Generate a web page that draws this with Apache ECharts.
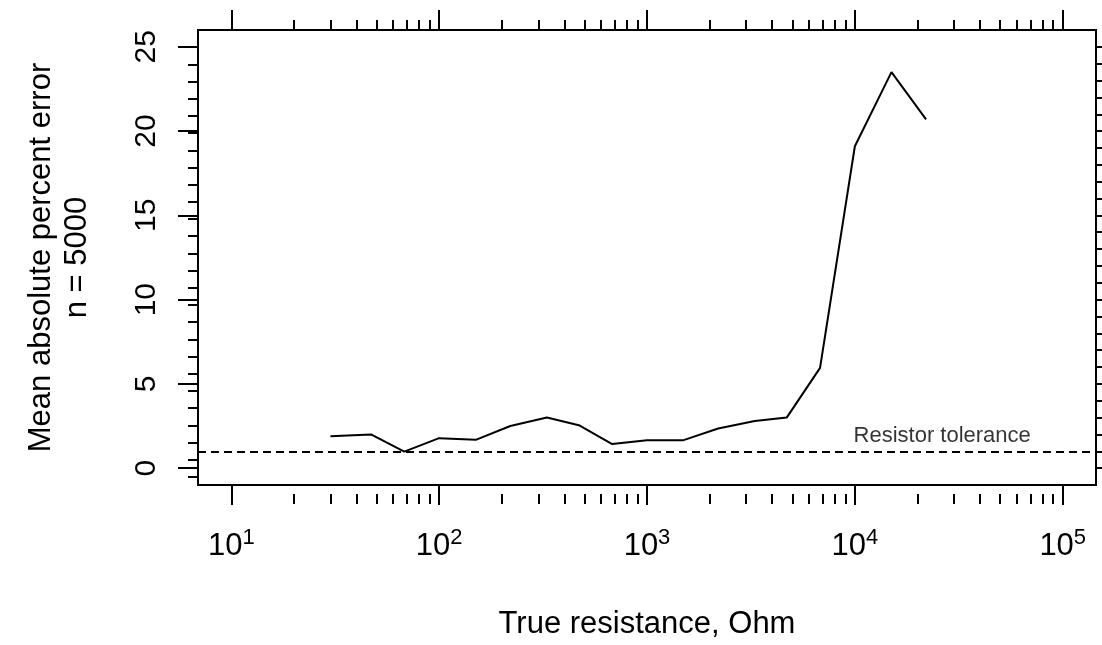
<!DOCTYPE html>
<html><head><meta charset="utf-8">
<script src="https://cdn.jsdelivr.net/npm/echarts@6/dist/echarts.min.js"></script>
<style>html,body{margin:0;padding:0;background:#fff}#c{width:1102px;height:645px}</style>
</head><body><div id="c"></div>
<script>
// ---- data ----
const resistance = [30, 47, 68, 100, 150, 220, 330, 470, 680, 1000, 1500, 2200, 3300, 4700, 6800, 10000, 15000, 22000];
const meanAbsPctError = [1.9, 2.0, 0.98, 1.78, 1.68, 2.5, 3.0, 2.55, 1.43, 1.66, 1.66, 2.35, 2.8, 3.0, 5.95, 19.1, 23.5, 20.7];
const toleranceLevel = 1;
const toleranceLabel = 'Resistor tolerance';
const toleranceLabelAt = [26300, 1.9];
const xMajorTicks = [10, 100, 1000, 10000, 100000];
const xMinorTicks = [20, 30, 40, 50, 60, 70, 80, 90,
  200, 300, 400, 500, 600, 700, 800, 900,
  2000, 3000, 4000, 5000, 6000, 7000, 8000, 9000,
  20000, 30000, 40000, 50000, 60000, 70000, 80000, 90000];
const yMajorTicks = [0, 5, 10, 15, 20, 25];
const yMinorTicks = [0, 1, 2, 3, 4, 5, 6, 7, 8, 9, 10, 11, 12, 13, 14, 15, 16, 17, 18, 19, 20, 21, 22, 23, 24, 25];
const xTitle = 'True resistance, Ohm';
const yTitle = 'Mean absolute percent error\nn = 5000';
const xLimits = [10, 100000];
const yLimits = [0, 25];

// ---- chart ----
const FONT = 'Liberation Sans, Arial, sans-serif';
const lg = v => Math.log10(v);
// R style 4% extension
const xr = lg(xLimits[1]) - lg(xLimits[0]);
const xMin = lg(xLimits[0]) - 0.04 * xr, xMax = lg(xLimits[1]) + 0.04 * xr;
const yr = yLimits[1] - yLimits[0];
const yMin = yLimits[0] - 0.04 * yr, yMax = yLimits[1] + 0.04 * yr;

const tickStyle = {color: '#000', width: 2};
const gridBox = {left: 198, right: 6, top: 30, bottom: 151};

function xAx(grid, pos, ticks, len, labels) {
  return {
    gridIndex: grid, type: 'value', position: pos, min: xMin, max: xMax,
    axisLine: {show: false, onZero: false}, splitLine: {show: false},
    axisTick: {show: true, inside: false, customValues: ticks.map(lg), length: len, lineStyle: tickStyle},
    axisLabel: labels ? {
      show: true, customValues: ticks.map(lg), margin: 42,
      formatter: v => '{b|10}{s|' + Math.round(v) + '}',
      rich: {
        b: {fontSize: 31, fontFamily: FONT, color: '#000'},
        s: {fontSize: 22, fontFamily: FONT, color: '#000', padding: [0, 0, 17, 0]}
      }
    } : {show: false},
    name: labels ? xTitle : '', nameLocation: 'middle', nameGap: 124,
    nameTextStyle: {fontSize: 31, fontFamily: FONT, color: '#000'}
  };
}
function yAx(grid, pos, ticks, len, labels, name) {
  return {
    gridIndex: grid, type: 'value', position: pos, min: yMin, max: yMax,
    axisLine: {show: false, onZero: false}, splitLine: {show: false},
    axisTick: {show: ticks.length > 0, inside: false, customValues: ticks, length: len, lineStyle: tickStyle},
    axisLabel: labels ? {
      show: true, customValues: ticks, rotate: 90, margin: 36,
      fontSize: 30, fontFamily: FONT, color: '#000'
    } : {show: false},
    name: name ? yTitle : '', nameLocation: 'middle', nameRotate: 90, nameGap: 103,
    nameTextStyle: {fontSize: 31, fontFamily: FONT, color: '#000', lineHeight: 36, align: 'center'}
  };
}

const chart = echarts.init(document.getElementById('c'), null, {renderer: 'canvas'});
chart.setOption({
  animation: false,
  backgroundColor: '#fff',
  grid: [
    Object.assign({show: true, borderColor: '#000', borderWidth: 2, backgroundColor: 'transparent'}, gridBox),
    Object.assign({show: false}, gridBox)
  ],
  xAxis: [
    xAx(0, 'bottom', xMajorTicks, 20, true),
    xAx(0, 'top', xMajorTicks, 20, false),
    xAx(1, 'bottom', xMinorTicks, 10, false),
    xAx(1, 'top', xMinorTicks, 10, false)
  ],
  yAxis: [
    yAx(0, 'left', yMajorTicks, 20, true, true),
    yAx(0, 'right', yMinorTicks, 10, false, false),
    yAx(1, 'left', yMinorTicks, 10, false, false),
    yAx(1, 'right', [], 10, false, false)
  ],
  series: [
    {
      type: 'line', xAxisIndex: 0, yAxisIndex: 0,
      data: resistance.map((r, i) => [lg(r), meanAbsPctError[i]]),
      showSymbol: false, symbol: 'none',
      lineStyle: {color: '#000', width: 2},
      markLine: {
        silent: true, symbol: 'none', animation: false,
        label: {show: false},
        lineStyle: {color: '#000', width: 2, type: [8, 5]},
        data: [{yAxis: toleranceLevel}]
      }
    },
    {
      type: 'scatter', xAxisIndex: 0, yAxisIndex: 0,
      data: [[lg(toleranceLabelAt[0]), toleranceLabelAt[1]]],
      symbolSize: 1, itemStyle: {color: 'rgba(0,0,0,0)'},
      label: {show: true, position: 'inside', formatter: toleranceLabel,
        fontSize: 22, fontFamily: FONT, color: '#000'}
    }
  ]
});
</script>
</body></html>
